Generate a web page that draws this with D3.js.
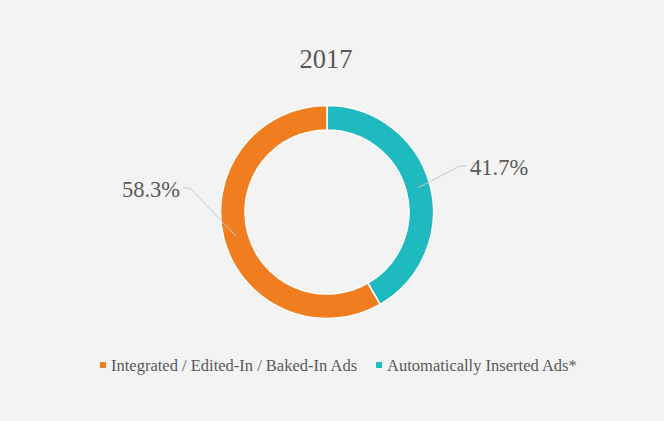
<!DOCTYPE html>
<html><head><meta charset="utf-8">
<script src="https://cdn.jsdelivr.net/npm/d3@7"></script>
<style>html,body{margin:0;padding:0;background:#f3f3f3;}svg{display:block;}</style>
</head><body>
<svg id="c" width="664" height="421"></svg>
<script>
const title = "2017";
const categories = ["Automatically Inserted Ads*", "Integrated / Edited-In / Baked-In Ads"];
const values = [41.7, 58.3];
const colors = ["#1fb9c0", "#f07e21"];
const legendOrder = [1, 0];

const W = 664, H = 421;
const svg = d3.select("#c");
svg.append("rect").attr("width", W).attr("height", H).attr("fill", "#f3f3f3");
const font = "Georgia, 'Liberation Serif', 'DejaVu Serif', serif";
const textCol = "#595959";

svg.append("text").attr("x", 326).attr("y", 68).attr("text-anchor", "middle")
  .attr("font-family", font).attr("font-size", 26.5).attr("fill", textCol).text(title);

const cx = 327, cy = 212, rOut = 106.5, rIn = 82;
const g = svg.append("g").attr("transform", `translate(${cx},${cy})`);
const pie = d3.pie().sort(null).value(d => d)(values);
const arc = d3.arc().innerRadius(rIn).outerRadius(rOut);
const midArc = d3.arc().innerRadius(94).outerRadius(94);

g.selectAll("path.slice").data(pie).join("path").attr("class", "slice")
  .attr("d", arc).attr("fill", (d, i) => colors[i])
  .attr("stroke", "#ffffff").attr("stroke-width", 1.5);

const fmt = v => d3.format(".1f")(v) + "%";
// label layout (elbow offsets from centre, text side)
const labelLayout = [
  {elbow: [133, -46], dir: 1},
  {elbow: [-137, -24], dir: -1}
];
pie.forEach((d, i) => {
  const c = midArc.centroid(d);
  const L = labelLayout[i];
  const e = L.elbow;
  const e2 = [e[0] + 7 * L.dir, e[1]];
  g.append("polyline").attr("points", [c, e, e2].map(p => p.join(",")).join(" "))
    .attr("fill", "none").attr("stroke", "#c9c9c9").attr("stroke-width", 1);
  g.append("text").attr("x", e2[0] + 3 * L.dir).attr("y", e[1] + 9)
    .attr("text-anchor", L.dir > 0 ? "start" : "end")
    .attr("font-family", font).attr("font-size", 22.5).attr("fill", textCol)
    .text(fmt(values[i]));
});

// legend
const legend = svg.append("g");
let lx = 100;
const ly = 366;
legendOrder.forEach(i => {
  legend.append("rect").attr("x", lx).attr("y", ly - 4).attr("width", 6).attr("height", 6).attr("fill", colors[i]);
  const t = legend.append("text").attr("x", lx + 11).attr("y", ly + 5)
    .attr("font-family", font).attr("font-size", 16.5).attr("fill", textCol).text(categories[i]);
  lx += 11 + t.node().getComputedTextLength() + 19;
});
</script>
</body></html>
